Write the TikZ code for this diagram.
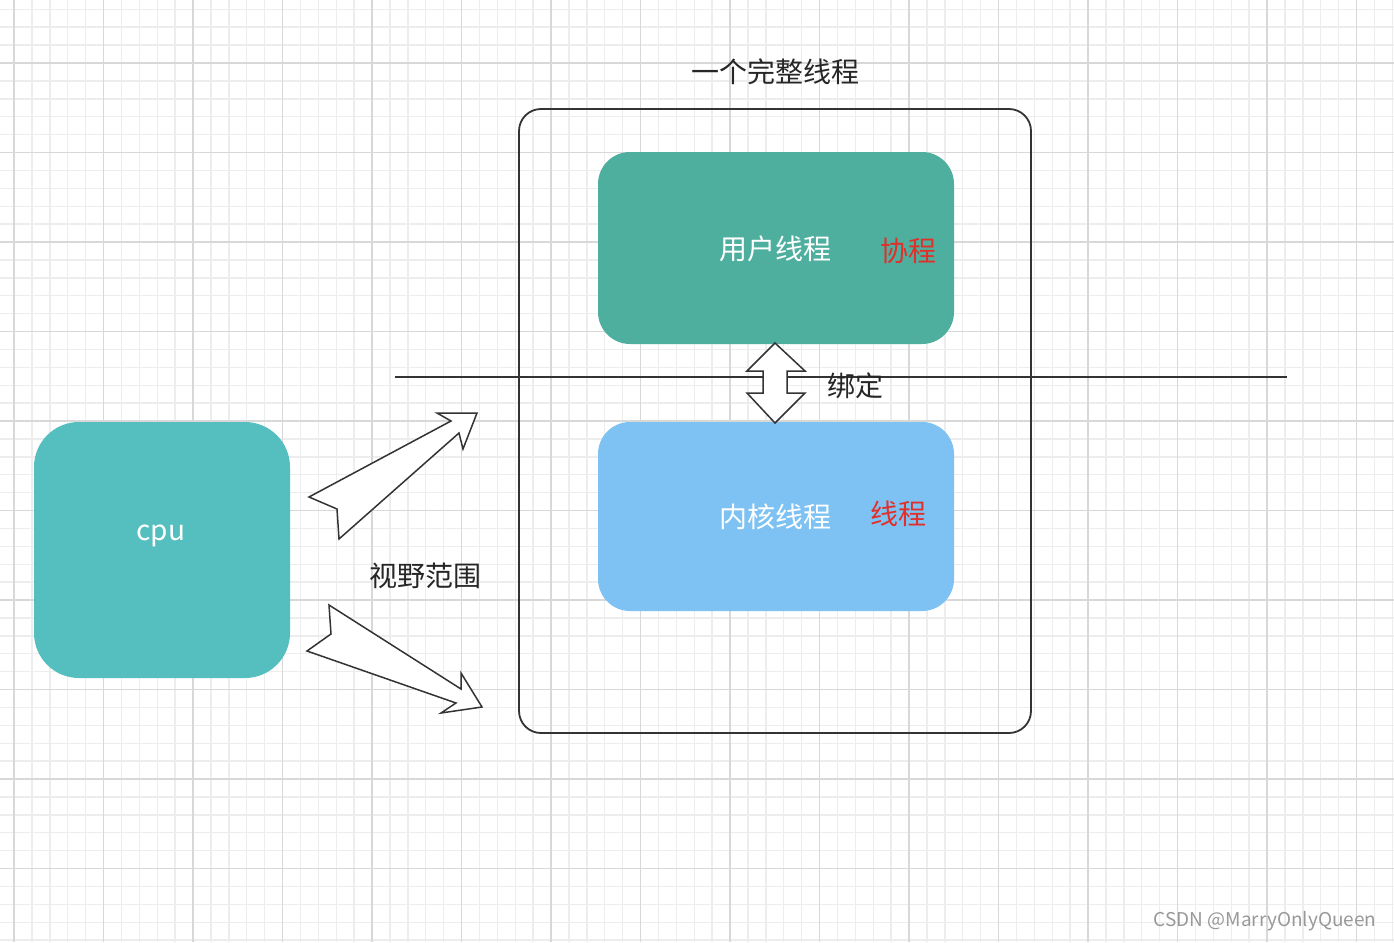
\documentclass[tikz,border=0pt]{standalone}
\usepackage{fontspec}
\setmainfont{Noto Sans CJK SC}
\definecolor{gmin}{HTML}{EDEDED}
\definecolor{gmaj}{HTML}{D8D8D8}
\definecolor{ugreen}{HTML}{4FAF9F}
\definecolor{kblue}{HTML}{7DC2F2}
\definecolor{cpuc}{HTML}{55BFC0}
\definecolor{redt}{HTML}{E0302A}
\definecolor{linec}{HTML}{333333}
\begin{document}
\begin{tikzpicture}[x=1pt,y=-1pt,
  box/.style={rounded corners=32pt,draw=none},
  wt/.style={text=white,font=\fontsize{28}{30}\selectfont},
  bt/.style={text=black!85,font=\fontsize{28}{30}\selectfont},
  rt/.style={text=redt,font=\fontsize{28}{30}\selectfont},
  fatarrow/.style={draw=linec,fill=white,line width=1.5pt,line join=miter}]
\useasboundingbox (0,0) rectangle (1394,942);
\fill[white] (0,0) rectangle (1394,942);
\foreach \i in {-1,...,80} {
  \draw[gmin,line width=1.4pt] ({14+17.9*\i},0) -- ({14+17.9*\i},942);
  \draw[gmin,line width=1.4pt] (0,{9.3+17.9*\i}) -- (1394,{9.3+17.9*\i});
}
\foreach \i in {0,...,16} {
  \draw[gmaj,line width=1.6pt] ({14+89.5*\i},0) -- ({14+89.5*\i},942);
  \draw[gmaj,line width=1.6pt] (0,{-26.5+89.5*\i}) -- (1394,{-26.5+89.5*\i});
}
\draw[linec,line width=1.8pt,rounded corners=22pt] (519,109) rectangle (1031,733);
\node[bt] (title) at (775,72) {一个完整线程};
\fill[ugreen,box] (598,152) rectangle (954,344);
\node[wt] (user) at (775,249) {用户线程};
\node[rt] (co) at (908,251) {协程};
\fill[kblue,box] (598,422) rectangle (954,611);
\node[wt] (kern) at (775,517) {内核线程};
\node[rt] (th) at (898,514) {线程};
\fill[cpuc,rounded corners=45pt] (34,422) rectangle (290,678);
\node[wt] (cpu) at (161,536) {cpu};
\coordinate (la) at (395,377);
\coordinate (lb) at (1287,377);
\draw[linec,line width=1.5pt] (la) -- (lb);
\draw[fatarrow] (775,343) -- (805,371) -- (787,371) -- (787,393) -- (805,393) -- (775,423) -- (747,393) -- (763,393) -- (763,371) -- (747,371) -- cycle;
\node[bt] (bind) at (855,386) {绑定};
\draw[fatarrow] (309,497) -- (337,509) -- (339,539) -- (459,433) -- (463,449) -- (477,413) -- (437,413) -- (451,421) -- cycle;
\draw[fatarrow] (329,605) -- (331,634) -- (307,651) -- (456,703) -- (441,713) -- (482,707) -- (461,673) -- (461,689) -- cycle;
\node[bt] (view) at (425,576) {视野范围};
\node[text=black!40,font=\fontsize{19}{20}\selectfont] (wm) at (1265,921) {CSDN @MarryOnlyQueen};
\end{tikzpicture}
\end{document}
